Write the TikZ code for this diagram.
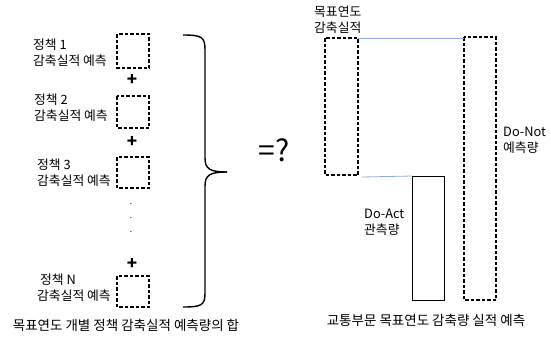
\documentclass[tikz,border=0pt]{standalone}
\usepackage{fontspec}
\setmainfont{Noto Sans CJK KR}
\definecolor{guidec}{RGB}{143,170,220}
\begin{document}
\begin{tikzpicture}[x=1pt,y=-1pt,
  dbox/.style={draw,dashed,dash pattern=on 3.5pt off 2pt,line width=1.1pt},
  sbox/.style={draw,line width=1.3pt},
  lab/.style={font=\fontsize{12.8}{16}\selectfont,align=left,anchor=west,inner sep=0pt},
  captext/.style={font=\fontsize{13.5}{15}\selectfont,inner sep=0pt},
  plus/.style={font=\fontsize{17}{17}\selectfont\bfseries,inner sep=0pt},
  guide/.style={draw=guidec,line width=0.8pt}]
\useasboundingbox (0,0) rectangle (551,338);
% left boxes
\path[dbox] (117,34) rectangle (149,68) coordinate (b1);
\path[dbox] (117,96) rectangle (149,128) coordinate (b2);
\path[dbox] (117,157) rectangle (149,188) coordinate (b3);
\path[dbox] (117,276) rectangle (149,307) coordinate (bN);
% labels
\node[lab] (l1) at (33,53) {정책 1\\감축실적 예측};
\node[lab] (l2) at (34,108) {정책 2\\감축실적 예측};
\node[lab] (l3) at (37,173) {정책 3\\감축실적 예측};
\node[lab] (lN) at (37,288) {\hspace*{3pt}정책 N\\감축실적 예측};
% plus signs
\node[plus] (p1) at (132,80) {+};
\node[plus] (p2) at (132,142) {+};
\node[plus] (p3) at (132,264) {+};
% dots
\node[inner sep=0pt] (d1) at (131,204) {\fontsize{8}{8}\selectfont .};
\node[inner sep=0pt] (d2) at (131,218) {\fontsize{8}{8}\selectfont .};
\node[inner sep=0pt] (d3) at (131,232) {\fontsize{8}{8}\selectfont .};
% brace
\draw[line width=1.4pt] (183,35) .. controls (202,35) and (205,37) .. (205,50) -- (205,158)
  .. controls (205,169) and (210,172) .. (227,172);
\draw[line width=1.4pt] (227,172) .. controls (210,172) and (205,175) .. (205,186) -- (205,293)
  .. controls (205,305) and (202,307) .. (183,307);
% =?
\node[font=\fontsize{30}{32}\selectfont,inner sep=0pt] (eq) at (274,150) {=?};
% right side
\path[dbox] (325,38) rectangle (358,175);
\coordinate (aNE) at (358,38);
\path[dbox] (464,37) rectangle (496,300);
\coordinate (bNW) at (464,38);
\node[sbox,minimum width=32pt,minimum height=124pt,inner sep=0pt,anchor=north west] (act) at (412,176) {};
\coordinate (lowL) at (362,177);
\draw[guide] (aNE) -- (bNW);
\draw[guide] (lowL) -- (act.north west);
\node[lab] (tgt) at (314,20) {목표연도\\감축실적};
\node[lab] (dn) at (503,140) {Do-Not\\예측량};
\node[lab] (da) at (364,222) {Do-Act\\관측량};
% captions
\node[captext] (c1) at (126,325) {목표연도 개별 정책 감축실적 예측량의 합};
\node[captext] (c2) at (426,320) {교통부문 목표연도 감축량 실적 예측};
\end{tikzpicture}
\end{document}
